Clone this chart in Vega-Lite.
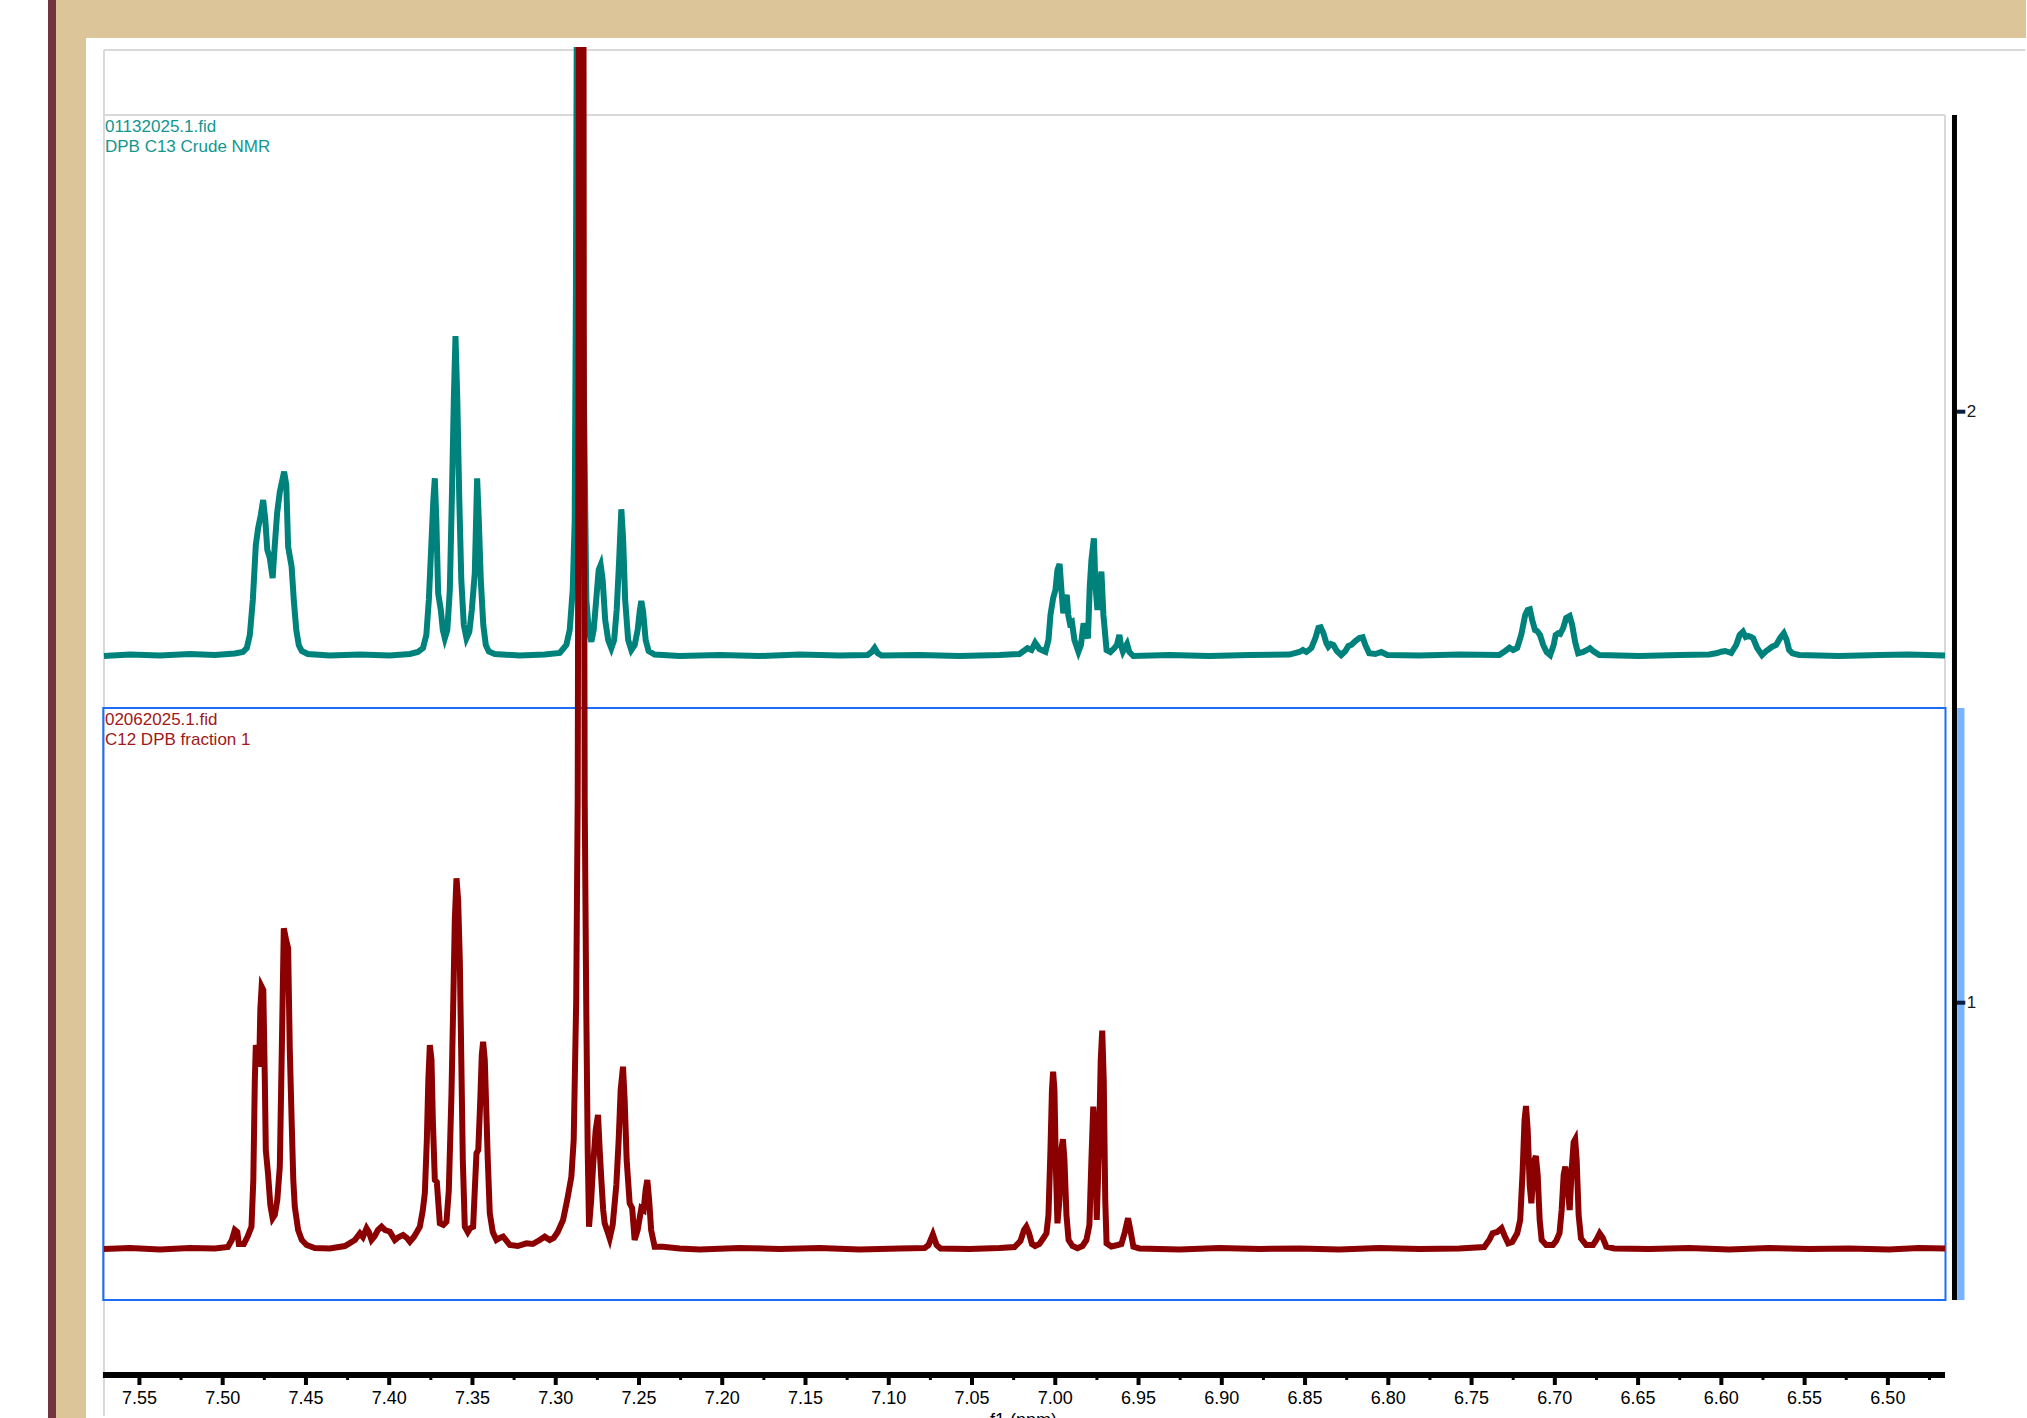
{
"$schema":"https://vega.github.io/schema/vega-lite/v6.json",
"width":2027,"height":1418,
"autosize":{"type":"fit","contains":"padding"},
"padding":0,
"background":"#ffffff",
"config":{"view":{"stroke":null},"text":{"font":"Liberation Sans"}},
"datasets":{
"top":[
{"x":7.5713,"y":1.5866},{"x":7.5557,"y":1.5891},{"x":7.5377,"y":1.5875},{"x":7.5197,"y":1.5900},{"x":7.5047,"y":1.5883},{"x":7.4927,"y":1.5908},{"x":7.4879,"y":1.5934},{"x":7.4855,"y":1.6002},{"x":7.4837,"y":1.6222},{"x":7.4819,"y":1.6814},{"x":7.4801,"y":1.7745},{"x":7.4787,"y":1.8032},{"x":7.4771,"y":1.8252},{"x":7.4757,"y":1.8506},{"x":7.4744,"y":1.8168},{"x":7.4732,"y":1.7660},{"x":7.4717,"y":1.7525},{"x":7.4700,"y":1.7186},{"x":7.4687,"y":1.7745},{"x":7.4673,"y":1.8286},{"x":7.4657,"y":1.8641},{"x":7.4631,"y":1.8985},{"x":7.4618,"y":1.8760},{"x":7.4607,"y":1.7716},{"x":7.4586,"y":1.7377},{"x":7.4573,"y":1.6814},{"x":7.4558,"y":1.6306},{"x":7.4543,"y":1.6053},{"x":7.4525,"y":1.5951},{"x":7.4489,"y":1.5900},
{"x":7.4357,"y":1.5875},{"x":7.4176,"y":1.5891},{"x":7.3996,"y":1.5875},{"x":7.3876,"y":1.5900},{"x":7.3828,"y":1.5934},{"x":7.3797,"y":1.6002},{"x":7.3777,"y":1.6222},{"x":7.3762,"y":1.6814},{"x":7.3747,"y":1.7745},{"x":7.3735,"y":1.8506},{"x":7.3726,"y":1.8873},{"x":7.3717,"y":1.8168},{"x":7.3706,"y":1.6927},{"x":7.3690,"y":1.6645},{"x":7.3678,"y":1.6306},{"x":7.3666,"y":1.6166},{"x":7.3651,"y":1.6306},{"x":7.3636,"y":1.6983},{"x":7.3624,"y":1.8506},{"x":7.3612,"y":2.0198},{"x":7.3602,"y":2.1281},{"x":7.3591,"y":2.0198},{"x":7.3579,"y":1.8506},{"x":7.3567,"y":1.7152},{"x":7.3552,"y":1.6391},{"x":7.3536,"y":1.6166},{"x":7.3519,"y":1.6272},{"x":7.3504,"y":1.6645},{"x":7.3486,"y":1.7271},{"x":7.3472,"y":1.8873},{"x":7.3462,"y":1.8168},{"x":7.3450,"y":1.7152},{"x":7.3435,"y":1.6391},{"x":7.3420,"y":1.6053},{"x":7.3402,"y":1.5942},{"x":7.3366,"y":1.5900},
{"x":7.3216,"y":1.5875},{"x":7.3066,"y":1.5891},{"x":7.2976,"y":1.5917},{"x":7.2936,"y":1.6053},{"x":7.2916,"y":1.6306},{"x":7.2898,"y":1.6983},{"x":7.2886,"y":1.8168},{"x":7.2879,"y":2.1890},{"x":7.2874,"y":2.6120},{"x":7.2856,"y":2.6120},{"x":7.2838,"y":2.1890},{"x":7.2816,"y":1.6814},{"x":7.2802,"y":1.6306},{"x":7.2786,"y":1.6108},{"x":7.2772,"y":1.6306},{"x":7.2757,"y":1.6814},{"x":7.2742,"y":1.7321},{"x":7.2730,"y":1.7406},{"x":7.2718,"y":1.7152},{"x":7.2703,"y":1.6476},{"x":7.2685,"y":1.6137},{"x":7.2666,"y":1.5997},{"x":7.2649,"y":1.6137},{"x":7.2634,"y":1.6645},{"x":7.2619,"y":1.7491},{"x":7.2606,"y":1.8349},{"x":7.2595,"y":1.7829},{"x":7.2583,"y":1.6814},{"x":7.2565,"y":1.6137},{"x":7.2546,"y":1.5968},{"x":7.2526,"y":1.6053},{"x":7.2508,"y":1.6306},{"x":7.2496,"y":1.6611},{"x":7.2486,"y":1.6797},{"x":7.2475,"y":1.6611},{"x":7.2460,"y":1.6137},{"x":7.2442,"y":1.5951},{"x":7.2406,"y":1.5891},
{"x":7.2256,"y":1.5866},{"x":7.2016,"y":1.5883},{"x":7.1775,"y":1.5866},{"x":7.1535,"y":1.5891},{"x":7.1295,"y":1.5875},{"x":7.1127,"y":1.5883},{"x":7.1103,"y":1.5934},{"x":7.1085,"y":1.6002},{"x":7.1067,"y":1.5917},{"x":7.1043,"y":1.5875},{"x":7.0815,"y":1.5883},{"x":7.0575,"y":1.5866},{"x":7.0335,"y":1.5883},{"x":7.0215,"y":1.5900},{"x":7.0167,"y":1.5997},{"x":7.0143,"y":1.5968},{"x":7.0121,"y":1.6091},{"x":7.0095,"y":1.5985},{"x":7.0059,"y":1.5939},{"x":7.0041,"y":1.6137},{"x":7.0029,"y":1.6560},{"x":7.0013,"y":1.6843},{"x":6.9999,"y":1.6983},{"x":6.9987,"y":1.7321},{"x":6.9974,"y":1.7423},{"x":6.9963,"y":1.6983},{"x":6.9952,"y":1.6589},{"x":6.9942,"y":1.6814},{"x":6.9931,"y":1.6898},{"x":6.9922,"y":1.6560},{"x":6.9912,"y":1.6420},{"x":6.9900,"y":1.6442},{"x":6.9885,"y":1.6137},{"x":6.9861,"y":1.5939},{"x":6.9846,"y":1.6053},{"x":6.9830,"y":1.6420},{"x":6.9816,"y":1.6272},{"x":6.9804,"y":1.6166},{"x":6.9793,"y":1.7039},{"x":6.9783,"y":1.7491},{"x":6.9768,"y":1.7858},{"x":6.9759,"y":1.7068},{"x":6.9747,"y":1.6645},{"x":6.9735,"y":1.6983},{"x":6.9723,"y":1.7293},{"x":6.9711,"y":1.6560},{"x":6.9692,"y":1.5968},{"x":6.9669,"y":1.5934},{"x":6.9646,"y":1.5997},{"x":6.9630,"y":1.6053},{"x":6.9615,"y":1.6222},{"x":6.9606,"y":1.6053},{"x":6.9594,"y":1.5939},{"x":6.9579,"y":1.6019},{"x":6.9569,"y":1.6069},{"x":6.9555,"y":1.5934},{"x":6.9531,"y":1.5866},
{"x":6.9314,"y":1.5883},{"x":6.9074,"y":1.5866},{"x":6.8834,"y":1.5883},{"x":6.8594,"y":1.5891},{"x":6.8534,"y":1.5934},{"x":6.8513,"y":1.5968},{"x":6.8492,"y":1.5934},{"x":6.8462,"y":1.6002},{"x":6.8438,"y":1.6171},{"x":6.8420,"y":1.6340},{"x":6.8406,"y":1.6352},{"x":6.8390,"y":1.6256},{"x":6.8372,"y":1.6086},{"x":6.8360,"y":1.6024},{"x":6.8345,"y":1.6069},{"x":6.8330,"y":1.6053},{"x":6.8309,"y":1.5951},{"x":6.8283,"y":1.5883},{"x":6.8258,"y":1.5951},{"x":6.8240,"y":1.6036},{"x":6.8222,"y":1.6053},{"x":6.8198,"y":1.6120},{"x":6.8174,"y":1.6171},{"x":6.8154,"y":1.6183},{"x":6.8138,"y":1.6053},{"x":6.8115,"y":1.5912},{"x":6.8078,"y":1.5900},{"x":6.8042,"y":1.5934},{"x":6.8006,"y":1.5883},
{"x":6.7814,"y":1.5875},{"x":6.7574,"y":1.5891},{"x":6.7334,"y":1.5883},{"x":6.7298,"y":1.5951},{"x":6.7272,"y":1.6007},{"x":6.7250,"y":1.5968},{"x":6.7226,"y":1.6002},{"x":6.7202,"y":1.6222},{"x":6.7178,"y":1.6560},{"x":6.7163,"y":1.6645},{"x":6.7150,"y":1.6657},{"x":6.7136,"y":1.6476},{"x":6.7119,"y":1.6306},{"x":6.7106,"y":1.6289},{"x":6.7089,"y":1.6222},{"x":6.7070,"y":1.6053},{"x":6.7049,"y":1.5934},{"x":6.7028,"y":1.5883},{"x":6.7007,"y":1.6053},{"x":6.6995,"y":1.6222},{"x":6.6981,"y":1.6250},{"x":6.6968,"y":1.6239},{"x":6.6950,"y":1.6340},{"x":6.6932,"y":1.6509},{"x":6.6911,"y":1.6543},{"x":6.6896,"y":1.6391},{"x":6.6878,"y":1.6103},{"x":6.6860,"y":1.5912},{"x":6.6830,"y":1.5934},{"x":6.6806,"y":1.5968},{"x":6.6789,"y":1.5997},{"x":6.6770,"y":1.5951},{"x":6.6733,"y":1.5883},
{"x":6.6493,"y":1.5866},{"x":6.6253,"y":1.5883},{"x":6.6073,"y":1.5891},{"x":6.6025,"y":1.5917},{"x":6.6001,"y":1.5939},{"x":6.5977,"y":1.5951},{"x":6.5941,"y":1.5917},{"x":6.5911,"y":1.6053},{"x":6.5890,"y":1.6222},{"x":6.5870,"y":1.6277},{"x":6.5854,"y":1.6188},{"x":6.5839,"y":1.6205},{"x":6.5821,"y":1.6188},{"x":6.5809,"y":1.6166},{"x":6.5785,"y":1.6002},{"x":6.5756,"y":1.5883},{"x":6.5731,"y":1.5951},{"x":6.5713,"y":1.5985},{"x":6.5695,"y":1.6024},{"x":6.5671,"y":1.6053},{"x":6.5647,"y":1.6171},{"x":6.5625,"y":1.6250},{"x":6.5608,"y":1.6137},{"x":6.5593,"y":1.5968},{"x":6.5573,"y":1.5912},{"x":6.5533,"y":1.5883},{"x":6.5293,"y":1.5866},{"x":6.5053,"y":1.5883},{"x":6.4873,"y":1.5891},{"x":6.4657,"y":1.5875}
],
"bot":[
{"x":7.5713,"y":0.5833},{"x":7.5557,"y":0.5849},{"x":7.5377,"y":0.5824},{"x":7.5197,"y":0.5849},{"x":7.5047,"y":0.5841},{"x":7.4969,"y":0.5866},{"x":7.4945,"y":0.5985},{"x":7.4927,"y":0.6154},{"x":7.4912,"y":0.6120},{"x":7.4903,"y":0.5917},{"x":7.4873,"y":0.5917},{"x":7.4849,"y":0.6053},{"x":7.4827,"y":0.6210},{"x":7.4816,"y":0.7000},{"x":7.4807,"y":0.8692},{"x":7.4801,"y":0.9284},{"x":7.4789,"y":0.9031},{"x":7.4781,"y":0.8917},{"x":7.4774,"y":0.9877},{"x":7.4766,"y":1.0271},{"x":7.4756,"y":1.0215},{"x":7.4747,"y":0.8692},{"x":7.4741,"y":0.7508},{"x":7.4727,"y":0.7085},{"x":7.4714,"y":0.6577},{"x":7.4700,"y":0.6352},{"x":7.4687,"y":0.6408},{"x":7.4672,"y":0.6662},{"x":7.4657,"y":0.7225},{"x":7.4645,"y":0.9200},{"x":7.4633,"y":1.1259},{"x":7.4619,"y":1.1061},{"x":7.4607,"y":1.0920},{"x":7.4597,"y":0.9200},{"x":7.4586,"y":0.8015},{"x":7.4576,"y":0.7000},{"x":7.4567,"y":0.6548},{"x":7.4547,"y":0.6154},{"x":7.4525,"y":0.5985},{"x":7.4496,"y":0.5900},{"x":7.4447,"y":0.5849},
{"x":7.4357,"y":0.5841},{"x":7.4266,"y":0.5883},{"x":7.4206,"y":0.5985},{"x":7.4176,"y":0.6098},{"x":7.4158,"y":0.6036},{"x":7.4136,"y":0.6183},{"x":7.4122,"y":0.6120},{"x":7.4106,"y":0.5985},{"x":7.4086,"y":0.6053},{"x":7.4068,"y":0.6154},{"x":7.4046,"y":0.6210},{"x":7.4026,"y":0.6154},{"x":7.3996,"y":0.6125},{"x":7.3966,"y":0.5985},{"x":7.3942,"y":0.6036},{"x":7.3917,"y":0.6069},{"x":7.3894,"y":0.6019},{"x":7.3876,"y":0.5956},{"x":7.3852,"y":0.6036},{"x":7.3834,"y":0.6120},{"x":7.3816,"y":0.6210},{"x":7.3798,"y":0.6492},{"x":7.3786,"y":0.6780},{"x":7.3774,"y":0.7677},{"x":7.3765,"y":0.8692},{"x":7.3756,"y":0.9284},{"x":7.3746,"y":0.9031},{"x":7.3738,"y":0.8015},{"x":7.3726,"y":0.7000},{"x":7.3714,"y":0.6966},{"x":7.3696,"y":0.6267},{"x":7.3675,"y":0.6239},{"x":7.3656,"y":0.6294},{"x":7.3642,"y":0.6831},{"x":7.3626,"y":0.8467},{"x":7.3615,"y":1.0046},{"x":7.3606,"y":1.1399},{"x":7.3596,"y":1.2105},{"x":7.3586,"y":1.1738},{"x":7.3576,"y":1.0723},{"x":7.3567,"y":0.9031},{"x":7.3558,"y":0.7338},{"x":7.3546,"y":0.6210},{"x":7.3528,"y":0.6120},{"x":7.3513,"y":0.6188},{"x":7.3496,"y":0.6210},{"x":7.3486,"y":0.6831},{"x":7.3476,"y":0.7452},{"x":7.3465,"y":0.7508},{"x":7.3453,"y":0.8354},{"x":7.3444,"y":0.9115},{"x":7.3436,"y":0.9340},{"x":7.3426,"y":0.9031},{"x":7.3417,"y":0.8184},{"x":7.3408,"y":0.7338},{"x":7.3396,"y":0.6437},{"x":7.3378,"y":0.6120},{"x":7.3356,"y":0.5985},{"x":7.3336,"y":0.6019},{"x":7.3316,"y":0.6041},{"x":7.3300,"y":0.5985},{"x":7.3276,"y":0.5900},{"x":7.3228,"y":0.5883},
{"x":7.3176,"y":0.5929},{"x":7.3138,"y":0.5917},{"x":7.3096,"y":0.5985},{"x":7.3066,"y":0.6041},{"x":7.3036,"y":0.5985},{"x":7.3012,"y":0.6019},{"x":7.2988,"y":0.6120},{"x":7.2956,"y":0.6323},{"x":7.2931,"y":0.6662},{"x":7.2906,"y":0.7056},{"x":7.2892,"y":0.7677},{"x":7.2877,"y":1.0046},{"x":7.2868,"y":1.3430},{"x":7.2863,"y":2.0198},{"x":7.2861,"y":2.6120},{"x":7.2833,"y":2.6120},{"x":7.2831,"y":2.0198},{"x":7.2826,"y":1.3430},{"x":7.2817,"y":1.0046},{"x":7.2808,"y":0.7508},{"x":7.2800,"y":0.6210},{"x":7.2787,"y":0.6662},{"x":7.2776,"y":0.7225},{"x":7.2760,"y":0.7846},{"x":7.2746,"y":0.8100},{"x":7.2736,"y":0.7508},{"x":7.2726,"y":0.7000},{"x":7.2715,"y":0.6492},{"x":7.2706,"y":0.6267},{"x":7.2688,"y":0.6120},{"x":7.2676,"y":0.6014},{"x":7.2658,"y":0.6239},{"x":7.2636,"y":0.6915},{"x":7.2622,"y":0.7677},{"x":7.2610,"y":0.8523},{"x":7.2596,"y":0.8917},{"x":7.2586,"y":0.8354},{"x":7.2574,"y":0.7338},{"x":7.2556,"y":0.6606},{"x":7.2541,"y":0.6526},{"x":7.2526,"y":0.5985},{"x":7.2508,"y":0.6154},{"x":7.2486,"y":0.6521},{"x":7.2472,"y":0.6492},{"x":7.2460,"y":0.6831},{"x":7.2450,"y":0.7000},{"x":7.2439,"y":0.6662},{"x":7.2427,"y":0.6154},{"x":7.2406,"y":0.5871},{"x":7.2356,"y":0.5871},
{"x":7.2256,"y":0.5841},{"x":7.2136,"y":0.5824},{"x":7.1896,"y":0.5849},{"x":7.1655,"y":0.5833},{"x":7.1415,"y":0.5849},{"x":7.1175,"y":0.5824},{"x":7.0935,"y":0.5841},{"x":7.0785,"y":0.5849},{"x":7.0761,"y":0.5900},{"x":7.0735,"y":0.6078},{"x":7.0713,"y":0.5900},{"x":7.0689,"y":0.5841},{"x":7.0515,"y":0.5833},{"x":7.0335,"y":0.5849},{"x":7.0245,"y":0.5866},{"x":7.0209,"y":0.5968},{"x":7.0188,"y":0.6154},{"x":7.0174,"y":0.6210},{"x":7.0158,"y":0.6103},{"x":7.0140,"y":0.5917},{"x":7.0121,"y":0.5883},{"x":7.0095,"y":0.5917},{"x":7.0071,"y":0.6019},{"x":7.0053,"y":0.6098},{"x":7.0041,"y":0.6408},{"x":7.0029,"y":0.7508},{"x":7.0020,"y":0.8523},{"x":7.0013,"y":0.8833},{"x":7.0005,"y":0.8523},{"x":6.9996,"y":0.7169},{"x":6.9987,"y":0.6267},{"x":6.9975,"y":0.6662},{"x":6.9964,"y":0.7508},{"x":6.9954,"y":0.7689},{"x":6.9945,"y":0.7338},{"x":6.9933,"y":0.6408},{"x":6.9920,"y":0.5985},{"x":6.9897,"y":0.5883},{"x":6.9867,"y":0.5844},{"x":6.9837,"y":0.5883},{"x":6.9813,"y":0.5985},{"x":6.9795,"y":0.6239},{"x":6.9783,"y":0.7338},{"x":6.9772,"y":0.8240},{"x":6.9762,"y":0.7846},{"x":6.9751,"y":0.6323},{"x":6.9738,"y":0.7508},{"x":6.9727,"y":0.9031},{"x":6.9718,"y":0.9526},{"x":6.9709,"y":0.8692},{"x":6.9700,"y":0.6662},{"x":6.9692,"y":0.5929},{"x":6.9663,"y":0.5875},{"x":6.9625,"y":0.5900},{"x":6.9603,"y":0.5917},{"x":6.9582,"y":0.6120},{"x":6.9563,"y":0.6352},{"x":6.9549,"y":0.6154},{"x":6.9531,"y":0.5871},{"x":6.9495,"y":0.5841},
{"x":6.9254,"y":0.5824},{"x":6.9014,"y":0.5849},{"x":6.8774,"y":0.5833},{"x":6.8534,"y":0.5841},{"x":6.8294,"y":0.5824},{"x":6.8054,"y":0.5849},{"x":6.7814,"y":0.5833},{"x":6.7574,"y":0.5841},{"x":6.7424,"y":0.5866},{"x":6.7394,"y":0.5985},{"x":6.7374,"y":0.6098},{"x":6.7346,"y":0.6120},{"x":6.7320,"y":0.6183},{"x":6.7301,"y":0.6053},{"x":6.7280,"y":0.5929},{"x":6.7256,"y":0.5951},{"x":6.7226,"y":0.6098},{"x":6.7208,"y":0.6323},{"x":6.7193,"y":0.7169},{"x":6.7182,"y":0.8015},{"x":6.7173,"y":0.8252},{"x":6.7163,"y":0.7846},{"x":6.7151,"y":0.6915},{"x":6.7141,"y":0.6606},{"x":6.7131,"y":0.7000},{"x":6.7122,"y":0.7338},{"x":6.7114,"y":0.7406},{"x":6.7103,"y":0.7085},{"x":6.7091,"y":0.6323},{"x":6.7079,"y":0.5985},{"x":6.7052,"y":0.5900},{"x":6.7012,"y":0.5900},{"x":6.6992,"y":0.5968},{"x":6.6972,"y":0.6098},{"x":6.6959,"y":0.6492},{"x":6.6947,"y":0.7085},{"x":6.6937,"y":0.7225},{"x":6.6926,"y":0.7000},{"x":6.6911,"y":0.6492},{"x":6.6899,"y":0.7169},{"x":6.6887,"y":0.7643},{"x":6.6878,"y":0.7689},{"x":6.6869,"y":0.7338},{"x":6.6857,"y":0.6408},{"x":6.6843,"y":0.6014},{"x":6.6812,"y":0.5900},{"x":6.6771,"y":0.5900},{"x":6.6751,"y":0.5985},{"x":6.6731,"y":0.6098},{"x":6.6712,"y":0.6019},{"x":6.6691,"y":0.5871},{"x":6.6643,"y":0.5841},
{"x":6.6433,"y":0.5833},{"x":6.6193,"y":0.5849},{"x":6.5953,"y":0.5824},{"x":6.5713,"y":0.5849},{"x":6.5473,"y":0.5833},{"x":6.5233,"y":0.5841},{"x":6.4993,"y":0.5824},{"x":6.4813,"y":0.5849},{"x":6.4657,"y":0.5841}
],
"major":[{"x":7.55},{"x":7.5},{"x":7.45},{"x":7.4},{"x":7.35},{"x":7.3},{"x":7.25},{"x":7.2},{"x":7.15},{"x":7.1},{"x":7.05},{"x":7.0},{"x":6.95},{"x":6.9},{"x":6.85},{"x":6.8},{"x":6.75},{"x":6.7},{"x":6.65},{"x":6.6},{"x":6.55},{"x":6.5}],
"minor":[{"x":7.525},{"x":7.475},{"x":7.425},{"x":7.375},{"x":7.325},{"x":7.275},{"x":7.225},{"x":7.175},{"x":7.125},{"x":7.075},{"x":7.025},{"x":6.975},{"x":6.925},{"x":6.875},{"x":6.825},{"x":6.775},{"x":6.725},{"x":6.675},{"x":6.625},{"x":6.575},{"x":6.525},{"x":6.475}]
},
"layer":[
{"data":{"values":[{"x":7.6049,"x2":7.6001,"y":0.29729,"y2":2.69662}]},"mark":{"type":"rect","fill":"#72343f"},
 "encoding":{"x":{"field":"x","type":"quantitative","scale":{"domain":[6.41705,7.63373],"reverse":true,"nice":false,"zero":false},"axis":null},"y":{"field":"y","type":"quantitative","scale":{"domain":[0.29729,2.69662],"nice":false,"zero":false},"axis":null},"x2":{"field":"x2"},"y2":{"field":"y2"}}},
{"data":{"values":[{"x":7.6001,"x2":6.41705,"y":2.6323,"y2":2.69662},{"x":7.6001,"x2":7.5821,"y":0.29729,"y2":2.6323}]},"mark":{"type":"rect","fill":"#dbc599"},
 "encoding":{"x":{"field":"x","type":"quantitative","axis":null},"y":{"field":"y","type":"quantitative","axis":null},"x2":{"field":"x2"},"y2":{"field":"y2"}}},
{"data":{"values":[{"x":7.5713,"x2":6.4175,"y":2.6120,"y2":2.6120},{"x":7.5713,"x2":7.5713,"y":2.6120,"y2":0.3007},{"x":7.5713,"x2":6.4657,"y":2.5020,"y2":2.5020},{"x":6.4657,"x2":6.4657,"y":2.5020,"y2":1.4987}]},"mark":{"type":"rule","color":"#d9d9d9","strokeWidth":2},
 "encoding":{"x":{"field":"x","type":"quantitative","axis":null},"y":{"field":"y","type":"quantitative","axis":null},"x2":{"field":"x2"},"y2":{"field":"y2"}}},
{"data":{"values":[{"x":7.5717,"x2":6.4654,"y":1.4987,"y2":0.4970}]},"mark":{"type":"rect","fill":"#ffffff","fillOpacity":0,"stroke":"#1c6ef5","strokeWidth":2},
 "encoding":{"x":{"field":"x","type":"quantitative","axis":null},"y":{"field":"y","type":"quantitative","axis":null},"x2":{"field":"x2"},"y2":{"field":"y2"}}},
{"data":{"values":[{"x":6.4584,"x2":6.4540,"y":1.4987,"y2":0.4970}]},"mark":{"type":"rect","fill":"#78b4ff"},
 "encoding":{"x":{"field":"x","type":"quantitative","axis":null},"y":{"field":"y","type":"quantitative","axis":null},"x2":{"field":"x2"},"y2":{"field":"y2"}}},
{"data":{"values":[{"x":6.4600,"y":2.5020,"y2":0.4970}]},"mark":{"type":"rule","color":"#000000","strokeWidth":5},
 "encoding":{"x":{"field":"x","type":"quantitative","axis":null},"y":{"field":"y","type":"quantitative","axis":null},"y2":{"field":"y2"}}},
{"data":{"values":[{"y":2},{"y":1}]},"mark":{"type":"rule","color":"#0a1f44","strokeWidth":4},
 "encoding":{"x":{"datum":6.4585,"type":"quantitative","axis":null},"x2":{"datum":6.4535},"y":{"field":"y","type":"quantitative","axis":null}}},
{"data":{"values":[{"y":2},{"y":1}]},"mark":{"type":"text","align":"left","baseline":"middle","fontSize":17,"color":"#1a1a1a"},
 "encoding":{"x":{"datum":6.4527,"type":"quantitative","axis":null},"y":{"field":"y","type":"quantitative","axis":null},"text":{"field":"y","type":"quantitative"}}},
{"data":{"name":"top"},"mark":{"type":"line","color":"#00827c","strokeWidth":6},
 "encoding":{"x":{"field":"x","type":"quantitative","axis":null},"y":{"field":"y","type":"quantitative","axis":null}}},
{"data":{"name":"bot"},"mark":{"type":"line","color":"#8b0000","strokeWidth":6},
 "encoding":{"x":{"field":"x","type":"quantitative","axis":null},"y":{"field":"y","type":"quantitative","axis":null}}},
{"data":{"values":[{"x":7.5719,"x2":6.4657,"y":0.3700}]},"mark":{"type":"rule","color":"#000000","strokeWidth":6},
 "encoding":{"x":{"field":"x","type":"quantitative","axis":null},"y":{"field":"y","type":"quantitative","axis":null},"x2":{"field":"x2"}}},
{"data":{"name":"major"},"mark":{"type":"rule","color":"#000000","strokeWidth":4},
 "encoding":{"x":{"field":"x","type":"quantitative","axis":null},"y":{"datum":0.3700,"type":"quantitative","axis":null},"y2":{"datum":0.3531}}},
{"data":{"name":"minor"},"mark":{"type":"rule","color":"#000000","strokeWidth":3},
 "encoding":{"x":{"field":"x","type":"quantitative","axis":null},"y":{"datum":0.3700,"type":"quantitative","axis":null},"y2":{"datum":0.3616}}},
{"data":{"name":"major"},"mark":{"type":"text","align":"center","baseline":"alphabetic","fontSize":18,"color":"#000000"},
 "encoding":{"x":{"field":"x","type":"quantitative","axis":null},"y":{"datum":0.3210,"type":"quantitative","axis":null},"text":{"field":"x","type":"quantitative","format":".2f"}}},
{"data":{"values":[{"x":7.0191,"y":0.3075,"t":"f1 (ppm)"}]},"mark":{"type":"text","align":"center","baseline":"top","fontSize":18,"color":"#000000","clip":true},
 "encoding":{"x":{"field":"x","type":"quantitative","axis":null},"y":{"field":"y","type":"quantitative","axis":null},"text":{"field":"t"}}},
{"data":{"values":[{"x":7.5707,"y":2.4738,"t":"01132025.1.fid"},{"x":7.5707,"y":2.4399,"t":"DPB C13 Crude NMR"}]},"mark":{"type":"text","align":"left","baseline":"alphabetic","fontSize":17,"color":"#12968f"},
 "encoding":{"x":{"field":"x","type":"quantitative","axis":null},"y":{"field":"y","type":"quantitative","axis":null},"text":{"field":"t"}}},
{"data":{"values":[{"x":7.5707,"y":1.4699,"t":"02062025.1.fid"},{"x":7.5707,"y":1.4360,"t":"C12 DPB fraction 1"}]},"mark":{"type":"text","align":"left","baseline":"alphabetic","fontSize":17,"color":"#a01818"},
 "encoding":{"x":{"field":"x","type":"quantitative","axis":null},"y":{"field":"y","type":"quantitative","axis":null},"text":{"field":"t"}}}
]
}
